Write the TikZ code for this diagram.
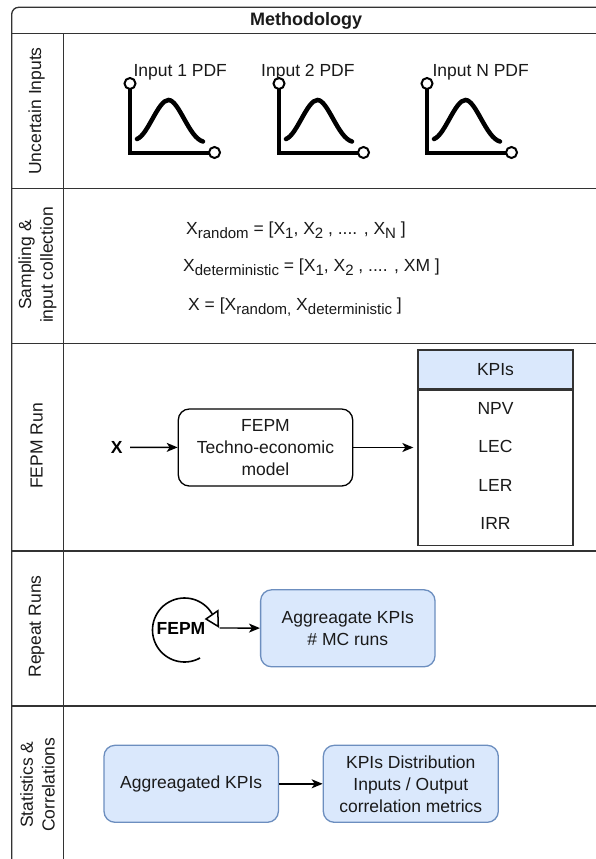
\documentclass[tikz,border=0pt]{standalone}
\usepackage{fontspec}
\setmainfont{Liberation Sans}
\usetikzlibrary{arrows.meta}
\definecolor{lanecol}{HTML}{333333}
\definecolor{bluefill}{HTML}{DAE8FC}
\definecolor{bluedraw}{HTML}{6C8EBF}
\definecolor{txt}{HTML}{1A1A1A}
\newcommand{\mysub}[1]{\raisebox{-4pt}{\fontsize{15}{15}\selectfont #1}}
\begin{document}
\begin{tikzpicture}[x=1pt,y=-1pt,
  lane/.style={draw=lanecol,line width=1.3pt},
  lanelabel/.style={rotate=90,font=\fontsize{17.5}{21.6}\selectfont,text=txt,align=center,inner sep=0},
  txtnode/.style={font=\fontsize{17.5}{22}\selectfont,text=txt,inner sep=0,align=center},
  plainbox/.style={draw=black,line width=1.3pt,fill=white,rounded corners=11pt,minimum width=174.4pt,minimum height=77pt,align=center,font=\fontsize{17.5}{22}\selectfont,text=txt,inner sep=0},
  bluebox/.style={plainbox,draw=bluedraw,fill=bluefill},
  arr/.style={draw=black,line width=1.4pt,-{Stealth[length=11pt,width=9pt,inset=3pt]}},
  axisline/.style={line width=4pt,draw=black},
  bell/.style={line width=4.5pt,line cap=round,draw=black},
  knob/.style={circle,draw=black,line width=2pt,fill=white,minimum size=11pt,inner sep=0},
  kpirow/.style={font=\fontsize{17.5}{21}\selectfont,text=txt,inner sep=0}
]
\useasboundingbox (0,0) rectangle (595,859);
\fill[white] (0,0) rectangle (595,859);

% ---------- pool frame ----------
\draw[lane,rounded corners=7pt] (11.7,875) -- (11.7,7.3) -- (610,7.3);
\draw[lane] (11.7,33.3) -- (610,33.3);
\draw[lane] (63.3,33.3) -- (63.3,875);
\draw[lane] (11.7,188.3) -- (610,188.3);
\draw[lane] (11.7,343.3) -- (610,343.3);
\draw[lane] (11.7,551) -- (610,551);
\draw[lane] (11.7,706) -- (610,706);

\node[font=\bfseries\fontsize{18}{20}\selectfont,text=txt] (title) at (306,20.7) {Methodology};

% ---------- lane labels ----------
\node[lanelabel] (l1) at (36.7,111) {Uncertain Inputs};
\node[lanelabel] (l2) at (37.5,265) {Sampling \&\\input collection};
\node[lanelabel] (l3) at (36.7,446) {FEPM Run};
\node[lanelabel] (l4) at (36.7,626.5) {Repeat Runs};
\node[lanelabel] (l5) at (37.5,784.7) {Statistics \&\\Correlations};

% ---------- lane 1: PDF icons ----------
\foreach \dx/\nm in {0/a,149/b,297/c}{
  \begin{scope}[shift={(\dx,0)}]
    \draw[axisline] (129.5,86) -- (129.5,152.5) -- (211,152.5);
    \draw[bell] (137,139) .. controls (148,135) and (158,100) .. (168.5,100)
                .. controls (179,100) and (189,138) .. (203,141.5);
    \node[knob] (top\nm) at (130,83.5) {};
    \node[knob] (bot\nm) at (214.5,152.5) {};
  \end{scope}
}
\node[txtnode,anchor=base west] (in1) at (133.3,77) {Input 1 PDF};
\node[txtnode,anchor=base west] (in2) at (261,77) {Input 2 PDF};
\node[txtnode,anchor=base west] (inN) at (432.3,77) {Input N PDF};

% ---------- lane 2: formulas ----------
\node[txtnode,anchor=base west] (f1) at (186,234.3)
  {X\mysub{random} = [X\mysub{1}, X\mysub{2} , .... , X\mysub{N} ]};
\node[txtnode,anchor=base west] (f2) at (183,271.3)
  {X\mysub{deterministic} = [X\mysub{1}, X\mysub{2} , .... , XM ]};
\node[txtnode,anchor=base west] (f3) at (188,310.3)
  {X = [X\mysub{random,} X\mysub{deterministic} ]};

% ---------- lane 3: FEPM run ----------
\node[font=\bfseries\fontsize{17.5}{21}\selectfont,text=black,inner sep=0] (xin) at (116.7,447.3) {X};
\node[plainbox] (fepm) at (265.5,447.5) {FEPM\\Techno-economic\\model};
\node[draw=lanecol,line width=1.3pt,fill=bluefill,minimum width=155pt,minimum height=39pt,inner sep=0,
      font=\fontsize{17.5}{21}\selectfont,text=txt] (kpihead) at (495.5,369.5) {KPIs};
\node[draw=lanecol,line width=1.3pt,fill=white,minimum width=155pt,minimum height=155pt,inner sep=0,anchor=north]
      (kpibody) at (kpihead.south) {};
\node[kpirow] (npv) at (495.5,408) {NPV};
\node[kpirow] (lec) at (495.5,446.7) {LEC};
\node[kpirow] (ler) at (495.5,485) {LER};
\node[kpirow] (irr) at (495.5,523) {IRR};
\draw[arr,shorten <=7.5pt] (xin) -- (fepm);
\draw[arr,shorten >=4pt] (fepm.east) -- (fepm.east -| kpibody.west);

% ---------- lane 4: repeat runs ----------
\coordinate (loopc) at (184.5,630);
\node[font=\bfseries\fontsize{17.5}{21}\selectfont,text=black,inner sep=0] (loop) at (181,628.3) {FEPM};
\draw[line width=1.6pt] (loopc) ++(61:32) arc[start angle=61,end angle=330,radius=32];
\draw[line width=1.5pt,fill=white,line join=miter] (206,619) -- (217.8,610.8) -- (218.3,626.5) -- cycle;
\coordinate (loopout) at (219.5,628);
\node[bluebox] (agg) at (347.8,628.3) {\fontsize{17.5}{21.6}\selectfont Aggreagate KPIs\\\# MC runs};
\draw[arr] (loopout) -- (agg);

% ---------- lane 5: statistics ----------
\node[bluebox] (aggd) at (191.2,783.8) {Aggreagated KPIs};
\node[bluebox,minimum width=175pt] (dist) at (410.8,783.8)
  {\fontsize{17.5}{22.3}\selectfont KPIs Distribution\\Inputs / Output\\correlation metrics};
\draw[arr] (aggd) -- (dist);
\end{tikzpicture}
\end{document}
